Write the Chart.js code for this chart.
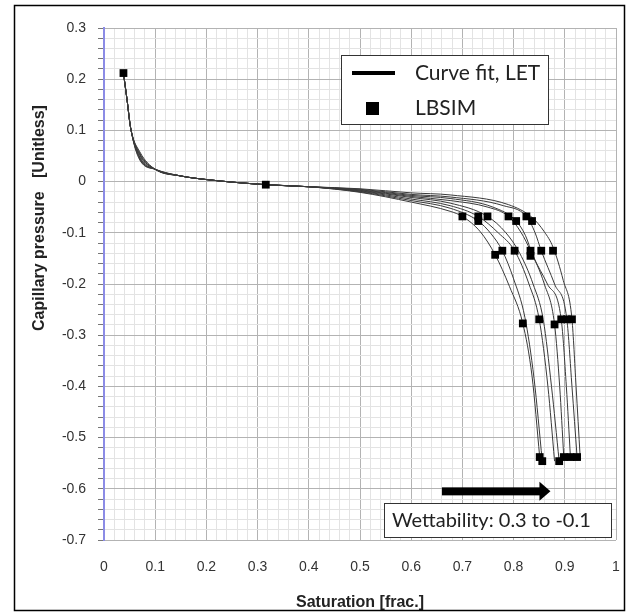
<!DOCTYPE html>
<html>
<head>
<meta charset="utf-8">
<script src="https://cdn.jsdelivr.net/npm/chart.js@4.4.1/dist/chart.umd.min.js"></script>
<style>
html, body { margin: 0; padding: 0; background: #fff; }
</style>
</head>
<body>
<canvas id="myCanvas" width="627" height="616"></canvas>
<script>
// LBSIM points (saturation, capillary pressure)
var simX = [0.038, 0.316,
	0.700, 0.731, 0.731, 0.749, 0.790, 0.805, 0.825, 0.836,
	0.764, 0.778, 0.802, 0.833, 0.833, 0.854, 0.877,
	0.818, 0.850, 0.880, 0.893, 0.904, 0.914,
	0.851, 0.856, 0.889, 0.898, 0.911, 0.924];
var simY = [0.212, -0.006,
	-0.068, -0.068, -0.077, -0.068, -0.068, -0.077, -0.068, -0.077,
	-0.143, -0.135, -0.135, -0.135, -0.145, -0.135, -0.135,
	-0.277, -0.269, -0.279, -0.269, -0.269, -0.269,
	-0.538, -0.546, -0.546, -0.538, -0.538, -0.538];

// curve fit, LET : common start of all curves
var headPts = [[0.038, 0.212], [0.045, 0.160], [0.052, 0.105]];
var kneeX = 0.07;
var kneeY = [0.042, 0.044, 0.046, 0.048, 0.051, 0.053, 0.055, 0.058];
var bodyPts = [[0.10, 0.024], [0.15, 0.011], [0.20, 0.004], [0.316, -0.006], [0.40, -0.010]];
var splitX = [0.50, 0.60];
var splitY = [
	[-0.021, -0.040], [-0.020, -0.037], [-0.019, -0.034], [-0.018, -0.031],
	[-0.017, -0.029], [-0.016, -0.027], [-0.015, -0.025], [-0.014, -0.022]];

// curve fit, LET : the part where the curves drop
var tail1 = [[0.676, -0.058], [0.700, -0.068], [0.735, -0.098], [0.764, -0.143], [0.792, -0.205], [0.818, -0.277], [0.836, -0.380], [0.851, -0.538]];
var tail2 = [[0.676, -0.052], [0.731, -0.077], [0.756, -0.102], [0.778, -0.135], [0.800, -0.190], [0.822, -0.265], [0.840, -0.385], [0.856, -0.546]];
var tail3 = [[0.676, -0.047], [0.731, -0.068], [0.770, -0.100], [0.802, -0.135], [0.830, -0.200], [0.850, -0.269], [0.867, -0.400], [0.880, -0.546]];
var tail4 = [[0.676, -0.042], [0.749, -0.068], [0.785, -0.100], [0.812, -0.140], [0.838, -0.200], [0.858, -0.270], [0.874, -0.400], [0.889, -0.546]];
var tail5 = [[0.676, -0.037], [0.750, -0.050], [0.790, -0.068], [0.815, -0.100], [0.833, -0.135], [0.860, -0.200], [0.880, -0.279], [0.890, -0.400], [0.898, -0.538]];
var tail6 = [[0.676, -0.033], [0.760, -0.050], [0.805, -0.077], [0.823, -0.105], [0.838, -0.145], [0.866, -0.200], [0.893, -0.269], [0.903, -0.400], [0.911, -0.538]];
var tail7 = [[0.676, -0.030], [0.780, -0.047], [0.825, -0.068], [0.842, -0.100], [0.854, -0.135], [0.880, -0.200], [0.904, -0.269], [0.914, -0.400], [0.924, -0.538]];
var tail8 = [[0.676, -0.026], [0.790, -0.045], [0.836, -0.070], [0.860, -0.098], [0.877, -0.128], [0.897, -0.193], [0.914, -0.269], [0.922, -0.400], [0.930, -0.538]];
var tails = [tail1, tail2, tail3, tail4, tail5, tail6, tail7, tail8];

// annotation
var arrowFrom = 0.66, arrowTo = 0.872, arrowY = -0.605;

function toXY(list) {
	return list.map(function(p) { return {x: p[0], y: p[1]}; });
}

var datasets = [];
var simPts = [];
for (var i = 0; i < simX.length; i++) simPts.push({x: simX[i], y: simY[i]});
datasets.push({
	label: 'LBSIM',
	data: simPts,
	showLine: false,
	pointStyle: 'rect',
	pointRadius: 5.5,
	pointBackgroundColor: '#000',
	pointBorderColor: '#000',
	pointBorderWidth: 0
});
for (var k = 0; k < tails.length; k++) {
	var split = [[splitX[0], splitY[k][0]], [splitX[1], splitY[k][1]]];
	var pts = headPts.concat([[kneeX, kneeY[k]]], bodyPts, split, tails[k]);
	datasets.push({
		label: 'Curve fit, LET',
		data: toXY(pts),
		borderColor: '#3a3a3a',
		borderWidth: 1,
		pointRadius: 0,
		fill: false,
		cubicInterpolationMode: 'monotone'
	});
}

function isMajor(v) { return Math.round(v * 100) % 10 === 0; }
function tickText(v) {
	var r = Math.round(v * 100);
	if (r % 10 !== 0) return '';
	return String(r / 100);
}

var decor = {
	id: 'decor',
	beforeDraw: function(chart) {
		var ctx = chart.ctx;
		ctx.save();
		ctx.fillStyle = '#fff';
		ctx.fillRect(0, 0, chart.width, chart.height);
		ctx.restore();
	},
	afterDraw: function(chart) {
		var ctx = chart.ctx, xs = chart.scales.x, ys = chart.scales.y;
		ctx.save();
		// outer frame
		ctx.strokeStyle = '#000';
		ctx.lineWidth = 1.5;
		ctx.strokeRect(14.5, 5.5, 610, 605);

		// y axis title
		ctx.save();
		ctx.translate(40, 218);
		ctx.rotate(-Math.PI / 2);
		ctx.font = 'bold 16px "Liberation Sans", Arial, sans-serif';
		ctx.fillStyle = '#222';
		ctx.textAlign = 'center';
		ctx.textBaseline = 'middle';
		ctx.fillText('Capillary pressure   [Unitless]', 0, 0);
		ctx.restore();

		// legend
		ctx.fillStyle = '#fff';
		ctx.fillRect(341, 55, 207, 69);
		ctx.strokeStyle = '#333';
		ctx.lineWidth = 1;
		ctx.strokeRect(341.5, 55.5, 207, 69);
		ctx.fillStyle = '#000';
		ctx.fillRect(352, 71, 43, 4);
		ctx.fillRect(366, 102, 13, 13);
		ctx.font = '21px Lato, "Noto Sans", sans-serif';
		ctx.fillStyle = '#222';
		ctx.textAlign = 'left';
		ctx.textBaseline = 'middle';
		ctx.fillText(chart.data.datasets[1].label, 415, 73);
		ctx.fillText(chart.data.datasets[0].label, 415, 108);

		// arrow
		var ax0 = xs.getPixelForValue(arrowFrom), ax1 = xs.getPixelForValue(arrowTo);
		var ay = ys.getPixelForValue(arrowY);
		ctx.fillStyle = '#000';
		ctx.fillRect(ax0, ay - 4, ax1 - ax0 - 10, 8);
		ctx.beginPath();
		ctx.moveTo(ax1 - 11, ay - 9.5);
		ctx.lineTo(ax1, ay);
		ctx.lineTo(ax1 - 11, ay + 9.5);
		ctx.closePath();
		ctx.fill();

		// wettability note
		ctx.fillStyle = '#fff';
		ctx.fillRect(384, 503, 227, 34);
		ctx.strokeStyle = '#333';
		ctx.strokeRect(384.5, 503.5, 227, 34);
		ctx.fillStyle = '#222';
		ctx.font = '20px Lato, "Noto Sans", sans-serif';
		ctx.fillText('Wettability: 0.3 to -0.1', 392, 521);
		ctx.restore();
	}
};

var ctx = document.getElementById('myCanvas').getContext('2d');
var myChart = new Chart(ctx, {
	type: 'line',
	data: { datasets: datasets },
	plugins: [decor],
	options: {
		responsive: false,
		animation: false,
		devicePixelRatio: 1,
		layout: { autoPadding: false, padding: { top: 28, right: 11, left: 0, bottom: 0 } },
		plugins: {
			legend: { display: false },
			tooltip: { enabled: false }
		},
		scales: {
			x: {
				type: 'linear',
				min: 0,
				max: 1,
				afterFit: function(scale) {
					scale.height = 76;
					scale.paddingLeft = 0;
					scale.paddingRight = 0;
				},
				border: { display: false },
				grid: {
					drawTicks: false,
					color: function(c) { return isMajor(c.tick.value) ? '#b3b3b3' : '#e3e3e3'; }
				},
				ticks: {
					stepSize: 0.02,
					maxTicksLimit: 100,
					autoSkip: false,
					maxRotation: 0,
					padding: 19,
					color: '#333',
					font: { family: '"Liberation Sans", Arial, sans-serif', size: 14 },
					callback: tickText
				},
				title: {
					display: true,
					text: 'Saturation [frac.]',
					color: '#222',
					padding: { top: 0, bottom: 4 },
					font: { family: '"Liberation Sans", Arial, sans-serif', size: 16, weight: 'bold' }
				}
			},
			y: {
				min: -0.7,
				max: 0.3,
				afterFit: function(scale) { scale.width = 104; },
				border: { color: '#8c8ce6', width: 2 },
				grid: {
					tickLength: 6,
					tickColor: '#777',
					color: function(c) { return isMajor(c.tick.value) ? '#b3b3b3' : '#e3e3e3'; }
				},
				ticks: {
					stepSize: 0.02,
					maxTicksLimit: 100,
					autoSkip: false,
					padding: 12,
					color: '#333',
					font: { family: '"Liberation Sans", Arial, sans-serif', size: 14 },
					callback: tickText
				}
			}
		}
	}
});
</script>
</body>
</html>
